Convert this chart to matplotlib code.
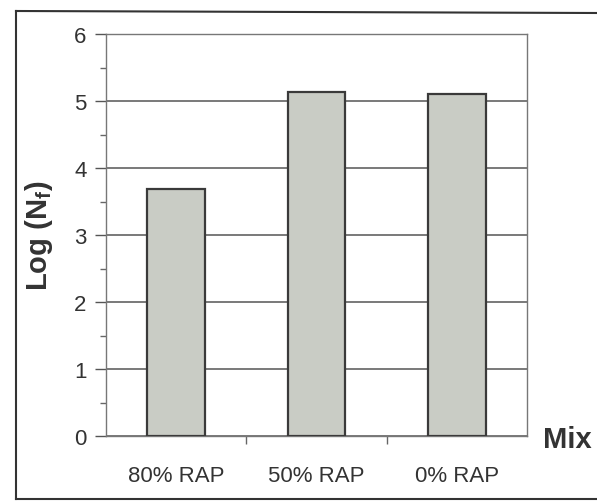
import matplotlib
matplotlib.use("Agg")
import matplotlib.pyplot as plt
from matplotlib.lines import Line2D
from matplotlib.ticker import MultipleLocator, FixedLocator

categories = ["80% RAP", "50% RAP", "0% RAP"]
log_nf = [3.69, 5.13, 5.1]
y_ticks = [0, 1, 2, 3, 4, 5, 6]

plt.rcParams['font.family'] = ['Liberation Sans', 'DejaVu Sans']

W, H = 597, 502
fig = plt.figure(figsize=(W/100, H/100), dpi=100)
fig.patch.set_facecolor('white')

# axes placement in pixels
left, right, top, bottom = 106, 527, 35, 437
ax = fig.add_axes([left/W, 1 - bottom/H, (right-left)/W, (bottom-top)/H])

x = list(range(len(categories)))
ax.bar(x, log_nf, width=0.41, color='#c9ccc5', edgecolor='#3a3a3a', linewidth=1.6, zorder=3)

ax.set_xlim(-0.5, len(categories) - 0.5)
ax.set_ylim(0, 6)
ax.set_yticks(y_ticks)
ax.yaxis.set_minor_locator(MultipleLocator(0.5))
ax.grid(axis='y', color='#555555', linewidth=1.1, zorder=1)
ax.set_xticks(x)
ax.set_xticklabels(categories, fontsize=16, color='#333333')
ax.xaxis.set_minor_locator(FixedLocator([0.5, 1.5]))
ax.tick_params(axis='x', which='major', length=0, pad=21)
ax.tick_params(axis='x', which='minor', length=6, color='#666666', width=1)
ax.tick_params(axis='y', which='major', length=8, color='#555555', width=1, labelsize=16, labelcolor='#333333', pad=6)
ax.tick_params(axis='y', which='minor', length=4, color='#666666', width=1)
for s in ax.spines.values():
    s.set_color('#777777')
    s.set_linewidth(1)

ax.set_ylabel("Log (N$_\\mathregular{f}$)", fontsize=21, fontweight='bold', color='#333333', labelpad=14)
fig.text(567/W, 1 - 440/H, "Mix", fontsize=21, fontweight='bold', color='#333333', ha='center', va='center')

# scanned outer border
fig.add_artist(Line2D([16/W, 16/W], [1 - 12/H, 1 - 500/H], transform=fig.transFigure, color='#333333', linewidth=1.5))
fig.add_artist(Line2D([16/W, 1.0], [1 - 12/H, 1 - 14/H], transform=fig.transFigure, color='#333333', linewidth=1.5))
fig.add_artist(Line2D([16/W, 1.0], [1 - 500/H, 1 - 500/H], transform=fig.transFigure, color='#333333', linewidth=1.5))

fig.savefig("out.png", dpi=100)
